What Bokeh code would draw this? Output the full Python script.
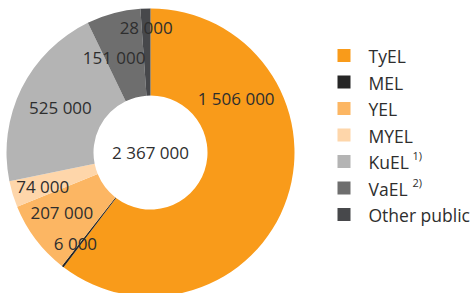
import math
from bokeh.plotting import figure
from bokeh.models import Range1d, ColumnDataSource
from bokeh.core.properties import value
from bokeh.embed import file_html
from bokeh.resources import INLINE

# ---- data ----
categories = ["TyEL", "MEL", "YEL", "MYEL", "KuEL", "VaEL", "Other public"]
superscripts = ["", "", "", "", "1)", "2)", ""]
values = [1506000, 6000, 207000, 74000, 525000, 151000, 28000]
total_label = 2367000
colors = ["#F99B1A", "#262626", "#FCB663", "#FED6AA", "#B4B4B4", "#6E6E6E", "#47484B"]

FONT = "Open Sans"
TXT = "#2E2E2E"

def fmt(v):
    return f"{v:,}".replace(",", " ")

R_OUT, R_IN = 144, 57
W, H = 474, 293
CX, CY = 150, 152  # centre of the donut in pixels from top-left
p = figure(width=W, height=H, output_backend="svg", toolbar_location=None,
           x_range=Range1d(-CX, W - CX), y_range=Range1d(CY - H, CY),
           min_border=0)
p.axis.visible = False
p.grid.visible = False
p.outline_line_color = None
p.background_fill_color = "white"

total = sum(values)
starts, ends, mids = [], [], []
cum = 0.0
for v in values:
    a0 = cum / total * 2 * math.pi
    cum += v
    a1 = cum / total * 2 * math.pi
    starts.append(math.pi / 2 - a0)
    ends.append(math.pi / 2 - a1)
    mids.append((a0 + a1) / 2)

src = ColumnDataSource(dict(start=starts, end=ends, color=colors))
p.annular_wedge(x=0, y=0, inner_radius=R_IN, outer_radius=R_OUT,
                start_angle="start", end_angle="end", direction="clock",
                fill_color="color", line_color=None, source=src)

# label placement: mid-angle, with manual adjustments (angle deg clockwise from top, radius)
default_r = (R_IN + R_OUT) / 2
label_adjust = {0: (58, 101), 1: (219.5, 118), 3: (252.5, 113), 2: (236, 107),
                5: (339, 101.5), 6: (358, 125)}
lx, ly, lt = [], [], []
for i, v in enumerate(values):
    ang = mids[i]
    r = default_r
    if i in label_adjust:
        ang = math.radians(label_adjust[i][0])
        r = label_adjust[i][1]
    lx.append(r * math.sin(ang))
    ly.append(r * math.cos(ang))
    lt.append(fmt(v))
p.text(x=lx, y=ly, text=lt, text_align="center", text_baseline="middle",
       text_font=value(FONT), text_font_size="17px", text_color=TXT)
p.text(x=[0], y=[0], text=[fmt(total_label)], text_align="center",
       text_baseline="middle", text_font=value(FONT), text_font_size="17px",
       text_color=TXT)

# legend
n = len(categories)
ys = [97 - 26.5 * i for i in range(n)]
p.rect(x=[193.5] * n, y=ys, width=13, height=13, fill_color=colors, line_color=None)
p.text(x=[218] * n, y=[y - 0.5 for y in ys], text=categories, text_baseline="middle",
       text_font=value(FONT), text_font_size="17.5px", text_color=TXT)
sx, sy, st = [], [], []
for i, s in enumerate(superscripts):
    if s:
        sx.append(262)
        sy.append(ys[i] + 6)
        st.append(s)
p.text(x=sx, y=sy, text=st, text_baseline="middle", text_font=value(FONT),
       text_font_size="11px", text_color=TXT)

open("out.html", "w").write(file_html(p, INLINE))
